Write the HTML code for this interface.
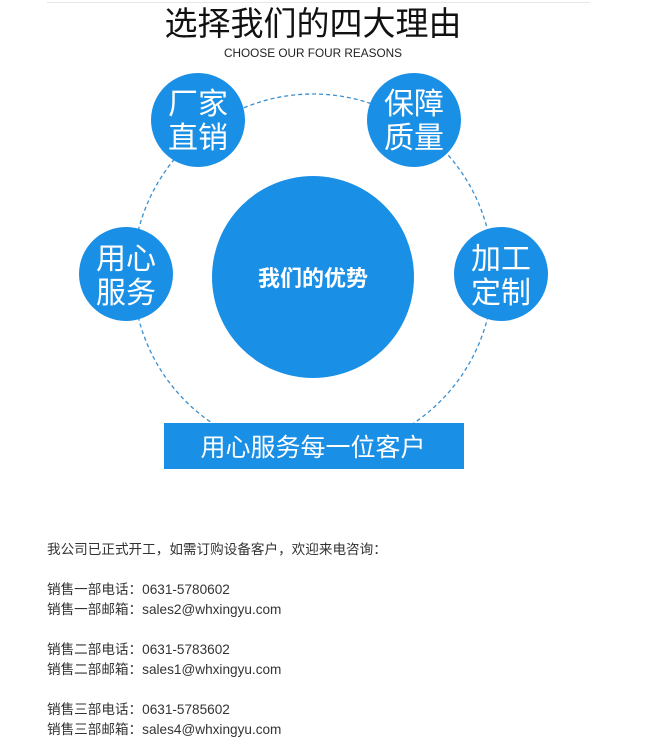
<!DOCTYPE html>
<html><head><meta charset="utf-8"><style>
html,body{margin:0;padding:0;background:#fff;width:670px;height:740px;overflow:hidden}
body{position:relative;font-family:"Liberation Sans","Noto Sans CJK SC",sans-serif}
.t{position:absolute;left:47px;font-size:13.6px;color:#333;line-height:20px;white-space:nowrap}
</style></head><body>
<div style="position:absolute;left:47px;top:2px;width:543px;height:1px;background:#e6e6e6"></div>
<svg width="670" height="500" style="position:absolute;left:0;top:0" font-family="Liberation Sans, Noto Sans CJK SC, sans-serif">
<text x="313" y="35" font-size="33" text-anchor="middle" fill="#111">选择我们的四大理由</text>
<text x="313" y="57" font-size="12" text-anchor="middle" fill="#222" textLength="178" lengthAdjust="spacingAndGlyphs">CHOOSE OUR FOUR REASONS</text>
<circle cx="313" cy="274" r="180" fill="none" stroke="#3a8fd0" stroke-width="1.3" stroke-dasharray="4,3"/>
<g fill="#1a8fe6">
<circle cx="313" cy="277" r="101"/>
<circle cx="198" cy="120" r="47"/>
<circle cx="414" cy="120" r="47"/>
<circle cx="126" cy="274" r="47"/>
<circle cx="501" cy="274" r="47"/>
<rect x="164" y="423" width="300" height="46"/>
</g>
<g fill="#fff" font-size="30" text-anchor="middle">
<text x="198" y="114">厂家</text><text x="198" y="148">直销</text>
<text x="414" y="114">保障</text><text x="414" y="148">质量</text>
<text x="126" y="269">用心</text><text x="126" y="303">服务</text>
<text x="501" y="269">加工</text><text x="501" y="303">定制</text>
<text x="313" y="286" font-size="22" font-weight="bold">我们的优势</text>
<text x="313" y="456" font-size="25">用心服务每一位客户</text>
</g>
</svg>
<div class="t" style="top:540px">我公司已正式开工，如需订购设备客户，欢迎来电咨询：</div>
<div class="t" style="top:580px">销售一部电话：0631-5780602</div>
<div class="t" style="top:600px">销售一部邮箱：sales2@whxingyu.com</div>
<div class="t" style="top:640px">销售二部电话：0631-5783602</div>
<div class="t" style="top:660px">销售二部邮箱：sales1@whxingyu.com</div>
<div class="t" style="top:700px">销售三部电话：0631-5785602</div>
<div class="t" style="top:720px">销售三部邮箱：sales4@whxingyu.com</div>
</body></html>
